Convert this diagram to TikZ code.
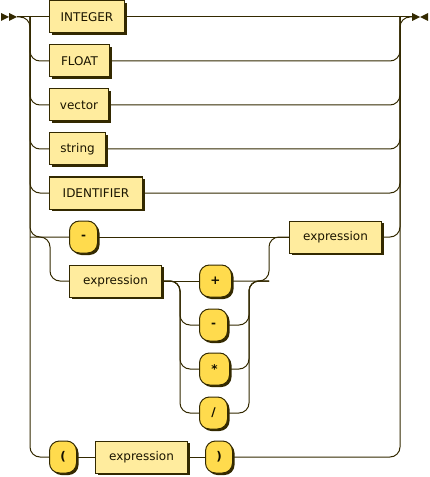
\documentclass[tikz,border=0pt]{standalone}
\usepackage{fontspec}
\setmainfont{DejaVu Sans}
\usetikzlibrary{shadows}
\definecolor{rrline}{HTML}{332900}
\definecolor{ntfill}{HTML}{FFEC9E}
\definecolor{tfill}{HTML}{FFDB4D}
\definecolor{nttext}{HTML}{1A1400}
\definecolor{ttext}{HTML}{141000}
\tikzset{
  box/.style={draw=rrline, line width=0.75pt, anchor=west, minimum height=24pt, inner sep=0pt,
    drop shadow={fill=rrline, opacity=1, shadow xshift=1.5pt, shadow yshift=-1.5pt}},
  ntbox/.style={box, fill=ntfill, text=nttext, font=\fontsize{9}{11}\selectfont},
  tbox/.style={box, fill=tfill, rounded corners=7.5pt, text=ttext, font=\fontsize{9}{11}\selectfont\bfseries},
  wire/.style={draw=rrline, line width=0.75pt},
  rc/.style={wire, rounded corners=7.5pt},
}
\begin{document}
\begin{tikzpicture}[x=0.75pt,y=-0.75pt]
\useasboundingbox (0,0) rectangle (429,477);
% rail x positions
\coordinate (Lr) at (30,0);
\coordinate (Rr) at (400,0);
\coordinate (Ls) at (50,0);
\coordinate (Rs) at (269,0);
\coordinate (Lo) at (180,0);
\coordinate (Ro) at (249,0);
\coordinate (s) at (17,17);
\coordinate (e) at (412,17);
% start / end markers
\fill[rrline] (1,13) -- (9,17) -- (1,21) -- cycle (9,13) -- (17,17) -- (9,21) -- cycle;
\fill[rrline] (412,13) -- (420,17) -- (412,21) -- cycle (428,13) -- (420,17) -- (428,21) -- cycle;
% nodes
\node[ntbox, minimum width=56.25pt] (int) at (49,17) {INTEGER};
\node[ntbox, minimum width=45pt] (flt) at (49,61) {FLOAT};
\node[ntbox, minimum width=44.25pt] (vec) at (49,105) {vector};
\node[ntbox, minimum width=42pt] (str) at (49,149) {string};
\node[ntbox, minimum width=69.75pt] (ident) at (49,193) {IDENTIFIER};
\node[tbox, minimum width=21pt] (minus1) at (69,237) {-};
\node[ntbox, minimum width=69pt] (exprA) at (69,281) {expression};
\node[tbox, minimum width=24pt] (plus) at (199,281) {+};
\node[tbox, minimum width=21pt] (minus2) at (199,325) {-};
\node[tbox, minimum width=22.5pt] (times) at (199,369) {*};
\node[tbox, minimum width=21pt] (div) at (199,413) {/};
\node[ntbox, minimum width=69pt] (exprB) at (289,237) {expression};
\node[tbox, minimum width=20.25pt] (lpar) at (49,457) {(};
\node[ntbox, minimum width=69pt] (exprC) at (95,457) {expression};
\node[tbox, minimum width=20.25pt] (rpar) at (205,457) {)};
% main line
\draw[wire] (s) -- (int.west);
\draw[wire] (int.east) -- (e);
% left rail
\draw[rc] (s) -- (Lr |- s) -- (Lr |- lpar) -- (lpar.west);
\foreach \n in {flt,vec,str,ident,minus1}
  \draw[rc] (Lr |- int) -- (Lr |- \n) -- (\n.west);
% right rail
\draw[rc] (rpar.east) -- (Rr |- rpar) -- (Rr |- int) -- (e);
\foreach \n in {flt,vec,str,ident,exprB}
  \draw[rc] (\n.east) -- (Rr |- \n) -- (Rr |- int);
% inner choice
\draw[wire] (minus1.east) -- (exprB.west);
\draw[rc] (Lr |- minus1) -- (Ls |- minus1) -- (Ls |- exprA) -- (exprA.west);
\draw[rc] (plus.east) -- (Rs |- plus) -- (Rs |- exprB) -- (exprB.west);
% operator choice
\draw[wire] (exprA.east) -- (plus.west);
\foreach \n in {minus2,times,div}
  \draw[rc] (exprA.east) -- (Lo |- exprA) -- (Lo |- \n) -- (\n.west);
\foreach \n in {minus2,times,div}
  \draw[rc] (\n.east) -- (Ro |- \n) -- (Ro |- plus) -- (Rs |- plus);
% last row
\draw[wire] (lpar.east) -- (exprC.west);
\draw[wire] (exprC.east) -- (rpar.west);
\end{tikzpicture}
\end{document}
